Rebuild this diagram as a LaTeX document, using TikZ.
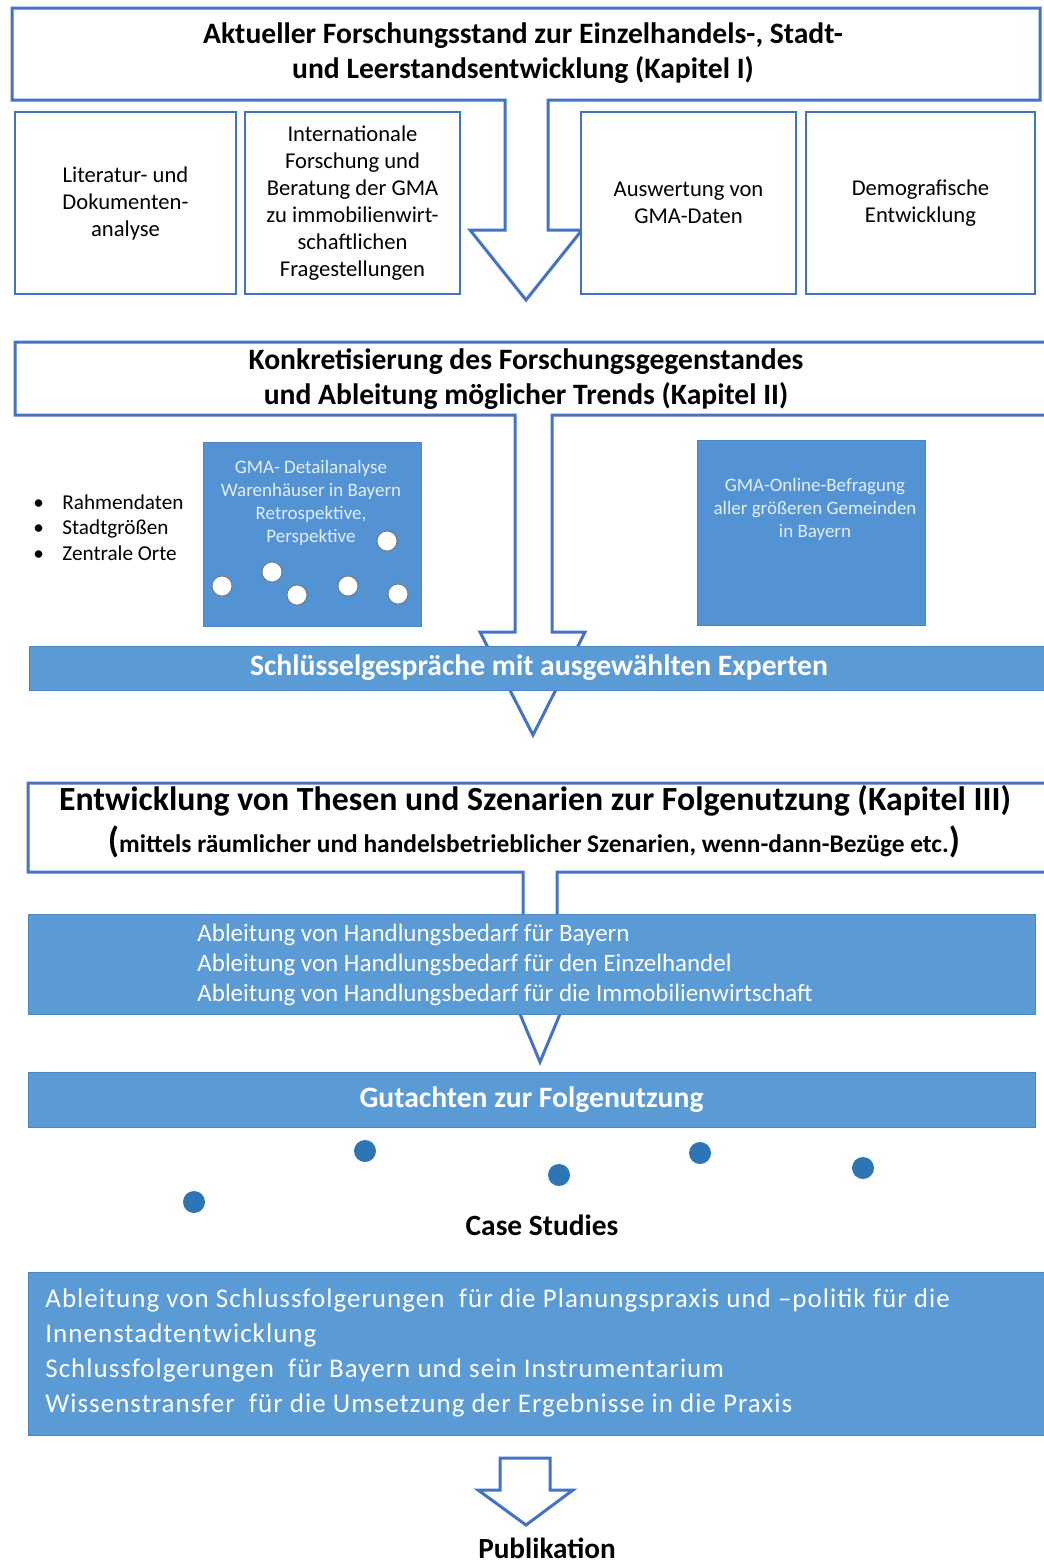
\documentclass[tikz,border=0pt]{standalone}
\usepackage{fontspec}
\setmainfont{Carlito}
\definecolor{outl}{HTML}{4472C4}
\definecolor{bandfill}{HTML}{5B9BD5}
\definecolor{bandedge}{HTML}{4A86C5}
\definecolor{boxfill}{HTML}{5393D3}
\definecolor{dotblue}{HTML}{2E75B6}
\definecolor{paletxt}{HTML}{E2EEF9}
\begin{document}
\begin{tikzpicture}[x=0.5pt,y=-0.5pt,
  outlinebox/.style={draw=outl, line width=1.5pt, fill=white, line join=miter},
  smallbox/.style={draw=outl, line width=1pt, fill=white, inner sep=0pt, align=center, font=\fontsize{11.3}{13.5}\selectfont},
  band/.style={fill=bandfill, draw=bandedge, line width=0.5pt, inner sep=0pt},
  bandtitle/.style={text=white, font=\bfseries\fontsize{14.8}{17}\selectfont},
  bandlines/.style={text=white, inner sep=0pt, anchor=west, align=left},
  bluebox/.style={fill=boxfill, draw=bandedge, line width=0.5pt, inner sep=0pt},
  bluetext/.style={text=paletxt, align=center, inner sep=0pt, font=\fontsize{9.5}{11.5}\selectfont},
  whitedot/.style={circle, fill=white, draw=black!55, line width=0.4pt, minimum size=10pt, inner sep=0pt},
  bluedot/.style={circle, fill=dotblue, minimum size=11pt, inner sep=0pt},
  titletext/.style={align=center, inner sep=0pt, font=\bfseries\fontsize{14.8}{17.5}\selectfont}
]
\useasboundingbox (0,0) rectangle (1044,1565);
\fill[white] (0,0) rectangle (1044,1565);

% ---- Kapitel I ----
\draw[outlinebox] (12,8) -- (1040,8) -- (1040,100) -- (548,100) -- (548,230) -- (582,230)
  -- (526,300) -- (470,230) -- (505,230) -- (505,100) -- (12,100) -- cycle;
\node[titletext] (t1) at (523,53.5) {Aktueller Forschungsstand zur Einzelhandels-, Stadt-\\und Leerstandsentwicklung (Kapitel I)};

\node[smallbox, minimum width=110.5pt, minimum height=91pt] (b1) at (125.5,203)
  {Literatur- und\\Dokumenten-\\analyse};
\node[smallbox, minimum width=107.5pt, minimum height=91pt] (b2) at (352.5,203)
  {Internationale\\Forschung und\\Beratung der GMA\\zu immobilienwirt-\\schaftlichen\\Fragestellungen};
\node[smallbox, minimum width=107.5pt, minimum height=91pt] (b3) at (688.5,203)
  {Auswertung von\\GMA-Daten};
\node[smallbox, minimum width=114.5pt, minimum height=91pt] (b4) at (920.5,203)
  {Demografische\\Entwicklung};

% ---- Kapitel II ----
\draw[outlinebox] (15,342) -- (1050,342) -- (1050,415) -- (552,415) -- (552,632) -- (585,632)
  -- (533,735) -- (480,632) -- (515,632) -- (515,415) -- (15,415) -- cycle;
\node[titletext] (t2) at (526,379.5)
  {Konkretisierung des Forschungsgegenstandes\\und Ableitung möglicher Trends (Kapitel II)};

\node[inner sep=0pt, anchor=west, align=left, font=\fontsize{10.6}{12.75}\selectfont] (bul) at (33,527.5)
  {\makebox[14.5pt][l]{•}Rahmendaten\\\makebox[14.5pt][l]{•}Stadtgrößen\\\makebox[14.5pt][l]{•}Zentrale Orte};

\node[bluebox, minimum width=109pt, minimum height=92pt] (gd) at (312,534) {};
\node[bluetext] (gdt) at (311,502.5) {GMA- Detailanalyse\\Warenhäuser in Bayern\\Retrospektive,\\Perspektive};
\node[whitedot] (w1) at (387,541) {};
\node[whitedot] (w2) at (222,586) {};
\node[whitedot] (w3) at (272,572) {};
\node[whitedot] (w4) at (297,595) {};
\node[whitedot] (w5) at (348,586) {};
\node[whitedot] (w6) at (398,594) {};

\node[bluebox, minimum width=114pt, minimum height=92.5pt] (go) at (811,532.5) {};
\node[bluetext] (got) at (815,509.5) {GMA-Online-Befragung\\aller größeren Gemeinden\\in Bayern};

\node[band, minimum width=510pt, minimum height=22pt, bandtitle] (s1) at (539,668)
  {Schlüsselgespräche mit ausgewählten Experten};

% ---- Kapitel III ----
\draw[outlinebox] (28,783) -- (1050,783) -- (1050,872) -- (557,872) -- (557,966) -- (580,966)
  -- (540,1062) -- (500,966) -- (523,966) -- (523,872) -- (28,872) -- cycle;
\node[inner sep=0pt, font=\bfseries\fontsize{16.9}{18}\selectfont] (t3) at (535,801)
  {Entwicklung von Thesen und Szenarien zur Folgenutzung (Kapitel III)};
\node[inner sep=0pt, font=\bfseries\fontsize{12.7}{14}\selectfont] (t3b) at (534,842)
  {{\fontsize{18}{18}\selectfont(}mittels räumlicher und handelsbetrieblicher Szenarien, wenn-dann-Bezüge etc.{\fontsize{18}{18}\selectfont)}};

\node[band, minimum width=503.5pt, minimum height=50pt] (s2) at (531.5,964) {};
\node[bandlines, font=\fontsize{12.5}{15}\selectfont] (s2t) at (197,965)
  {Ableitung von Handlungsbedarf für Bayern\\Ableitung von Handlungsbedarf für den Einzelhandel\\Ableitung von Handlungsbedarf für die Immobilienwirtschaft};

\node[band, minimum width=503.5pt, minimum height=27.5pt, bandtitle] (s3) at (531.5,1099.5)
  {Gutachten zur Folgenutzung};

\node[bluedot] (d1) at (365,1151) {};
\node[bluedot] (d2) at (559,1175) {};
\node[bluedot] (d3) at (700,1153) {};
\node[bluedot] (d4) at (863,1168) {};
\node[bluedot] (d5) at (194,1202) {};
\node[inner sep=0pt, font=\bfseries\fontsize{14.7}{16}\selectfont] (cs) at (542,1225) {Case Studies};

\node[band, minimum width=510pt, minimum height=81.5pt] (s4) at (538,1353.5) {};
\node[bandlines, font=\fontsize{13.5}{17.5}\selectfont\addfontfeature{LetterSpace=3.8}] (s4t) at (45,1353)
  {Ableitung von Schlussfolgerungen \ für die Planungspraxis und –politik für die\\Innenstadtentwicklung\\Schlussfolgerungen \ für Bayern und sein Instrumentarium\\Wissenstransfer \ für die Umsetzung der Ergebnisse in die Praxis};

\draw[outlinebox] (500,1458) -- (550,1458) -- (550,1490) -- (573,1490) -- (526,1525)
  -- (478,1490) -- (500,1490) -- cycle;
\node[inner sep=0pt, font=\bfseries\fontsize{14.6}{16}\selectfont] (pub) at (547,1548) {Publikation};
\end{tikzpicture}
\end{document}
